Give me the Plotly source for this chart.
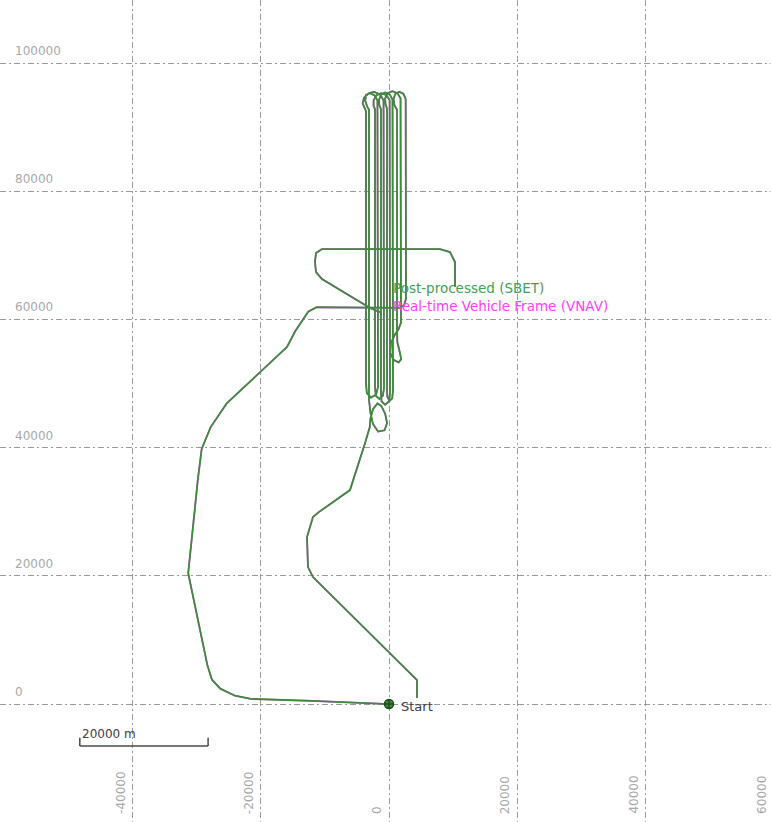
import plotly.graph_objects as go

# Flight track (metres east / north of the start point); None splits track pieces
track_x = [
    0, -3000, -12000, -21500, -24000, -26300, -27600, -28300, -31300, -29800,
    -29200, -27800, -25300, -15900, -14600, -12600, -11300, 1700, 2400, 2650,
    2650, 2600, 2250, 1600, 1000, 700, 850, 1250,
    1250, 1300, 1700, 1900, 1500, 700, 200, 300, 900, 1500, 1870,
    1870, 1800, 1300, 500, -200, -600, -550, -310,
    -310, -250, 100, 500, 620,
    620, 550, 100, -600, -1200, -1550, -1500, -1250,
    -1250, -1150, -600, 0, 160,
    160, 100, -400, -1200, -1900, -2400, -2400, -2180,
    -2180, -2050, -1500, -950, -780,
    -780, -850, -1400, -2300, -3100, -3900, -4100, -3800, -3590,
    -3590, -3450, -2800, -2000, -1710,
    -1710, -1800, -2300, -3000, -3600, -3700, -3400, -3120,
    -3120, -2900, -2500, -1700, -700, -300, -600, -1200, -1800, -2500, -2900,
    -3000, -3740, -5610, -6080, -11000, -11850, -12780, -12630, -11850, 4370, 4370,
    None,
    10290, 10290, 9510, 7950, -10450, -11380, -11540, -11380, -10450, -2960, -1400,
]
track_y = [
    0, 150, 500, 800, 1300, 2400, 3800, 6000, 20400, 35000,
    39800, 43200, 46900, 55700, 58200, 61200, 61900, 61800, 62300, 63300,
    93300, 94400, 95200, 95500, 95200, 94400, 93400, 92700,
    58800, 56500, 54800, 53800, 53300, 53700, 54800, 56300, 57600, 58500, 59500,
    93400, 94500, 95300, 95600, 95300, 94500, 93600, 92900,
    49000, 47900, 47300, 47700, 48900,
    93200, 94300, 95100, 95400, 95100, 94300, 93400, 92800,
    48300, 47200, 46700, 47200, 48500,
    93100, 94200, 95000, 95300, 95000, 94200, 93300, 92800,
    49300, 48100, 47600, 48100, 49300,
    93000, 94200, 95100, 95500, 95300, 94600, 93700, 92900, 92500,
    50000, 48500, 47800, 48300, 49500,
    93000, 94200, 95000, 95300, 95000, 94100, 93200, 92700,
    47500, 45500, 43700, 42500, 42700, 43800, 45300, 46500, 46900, 46000, 44500,
    43200, 40700, 34940, 33380, 29900, 29170, 26050, 21370, 19810, 3740, 940,
    None,
    65050, 68950, 70510, 70980, 70980, 70360, 68950, 67390, 66300, 61780, 61150,
]

start_x = [0]
start_y = [0]
start_text = ["Start"]

x_ticks = [-40000, -20000, 0, 20000, 40000, 60000]
y_ticks = [0, 20000, 40000, 60000, 80000, 100000]

series_names = ["Post-processed (SBET)", "Real-time Vehicle Frame (VNAV)"]
series_colors = ["#3c8c3c", "#ff3cff"]
label_colors = ["#3fa05a", "#ff3cff"]
label_y = [64900, 62100]

scale_len = 20000
scale_text = "20000 m"

X_RANGE = [-60640, 59550]
Y_RANGE = [-18400, 109830]

fig = go.Figure()

# real-time solution drawn first, post-processed solution on top
fig.add_trace(go.Scatter(x=track_x, y=track_y, mode="lines", name=series_names[1],
                         line=dict(color=series_colors[1], width=1.6), connectgaps=False,
                         hoverinfo="skip"))
fig.add_trace(go.Scatter(x=track_x, y=track_y, mode="lines", name=series_names[0],
                         line=dict(color=series_colors[0], width=1.8), connectgaps=False,
                         hoverinfo="skip"))

# start marker
fig.add_trace(go.Scatter(x=start_x, y=start_y, mode="markers",
                         marker=dict(symbol="circle-cross", size=9, color="#3c8c3c",
                                     line=dict(color="#1d4d1d", width=1.5)),
                         hoverinfo="skip"))

annotations = []
font_family = "DejaVu Sans"

# start label
annotations.append(dict(x=start_x[0], y=start_y[0], text=start_text[0], showarrow=False,
                        xanchor="left", yanchor="middle", xshift=10, yshift=-2,
                        font=dict(family=font_family, size=13, color="#404040")))

# series labels
for name, col, yv in zip(series_names, label_colors, label_y):
    annotations.append(dict(x=0, y=yv, text=name, showarrow=False,
                            xanchor="left", yanchor="middle", xshift=3, borderpad=0,
                            font=dict(family=font_family, size=13.5, color=col)))

# y tick labels sit just above each grid line at the left edge
for v in y_ticks:
    annotations.append(dict(xref="paper", x=0, y=v, text=str(v), showarrow=False,
                            xanchor="left", yanchor="bottom", xshift=13, yshift=3,
                            font=dict(family=font_family, size=12, color="#a8a8a8")))

# x tick labels rotated along the bottom, left of each grid line
x_span = X_RANGE[1] - X_RANGE[0]
for v in x_ticks:
    annotations.append(dict(xref="paper", x=(v - X_RANGE[0]) / x_span, yref="paper", y=0,
                            text=str(v), showarrow=False,
                            textangle=-90, xanchor="right", yanchor="bottom",
                            xshift=-3, yshift=6,
                            font=dict(family=font_family, size=12, color="#a8a8a8")))

# scale bar
bar_x0 = -48200
bar_x1 = bar_x0 + scale_len
bar_y = -6550
tick_h = 1300
shapes = [
    dict(type="line", x0=bar_x0, x1=bar_x1, y0=bar_y, y1=bar_y,
         line=dict(color="#4a4a4a", width=1.5)),
    dict(type="line", x0=bar_x0, x1=bar_x0, y0=bar_y, y1=bar_y + tick_h,
         line=dict(color="#4a4a4a", width=1.5)),
    dict(type="line", x0=bar_x1, x1=bar_x1, y0=bar_y, y1=bar_y + tick_h,
         line=dict(color="#4a4a4a", width=1.5)),
]
annotations.append(dict(x=bar_x0, y=bar_y, text=scale_text, showarrow=False,
                        xanchor="left", yanchor="bottom", yshift=3,
                        font=dict(family=font_family, size=12, color="#404040")))

grid_style = dict(showgrid=True, gridcolor="#9a9a9a", gridwidth=1, griddash="6px,3px,2px,3px",
                  zeroline=False, showline=False, showticklabels=False, ticks="",
                  fixedrange=True)

fig.update_layout(
    width=771, height=822,
    margin=dict(l=0, r=0, t=0, b=0),
    paper_bgcolor="white", plot_bgcolor="white",
    showlegend=False,
    xaxis=dict(range=X_RANGE, tickvals=x_ticks, **grid_style),
    yaxis=dict(range=Y_RANGE, tickvals=y_ticks, **grid_style),
    annotations=annotations,
    shapes=shapes,
)

fig.write_html("out.html")
